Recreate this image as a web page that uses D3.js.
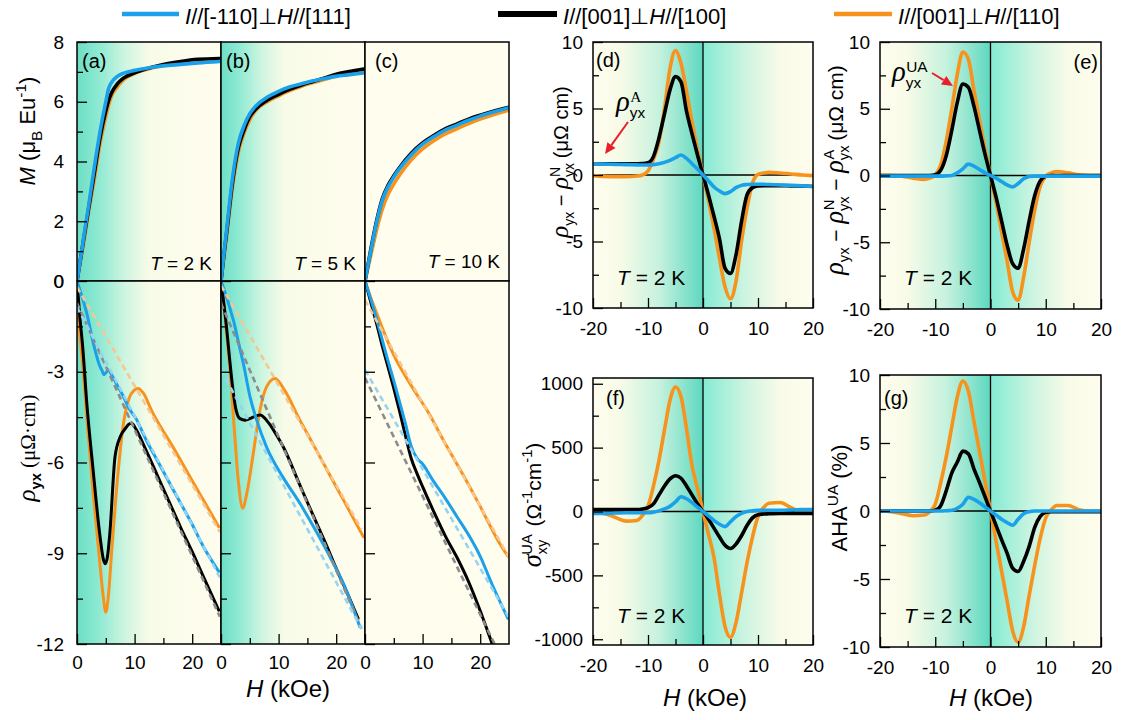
<!DOCTYPE html>
<html lang="en">
<head>
<meta charset="utf-8">
<title>Magnetization and Hall resistivity, three current/field geometries</title>
<script src="https://cdn.jsdelivr.net/npm/d3@7"></script>
<style>
	body { margin: 0; background: #fff; }
	svg { display: block; font-family: "Liberation Sans", Arial, sans-serif; }
</style>
</head>
<body>
<script>
// ---------- data ----------
var legendLabels = [
	[{t: "I", it: 1}, {t: "//[-110]⊥"}, {t: "H", it: 1}, {t: "//[111]"}],
	[{t: "I", it: 1}, {t: "//[001]⊥"}, {t: "H", it: 1}, {t: "//[100]"}],
	[{t: "I", it: 1}, {t: "//[001]⊥"}, {t: "H", it: 1}, {t: "//[110]"}]
];

// tick values
var mTicks = [0, 2, 4, 6, 8], mMinor = [1, 3, 5, 7];
var rTicks = [0, -3, -6, -9, -12], rMinor = [-1.5, -4.5, -7.5, -10.5];
var hTicksL = [0, 10, 20], hMinorL = [5, 15];
var hTicksR = [-20, -10, 0, 10, 20], hMinorR = [-15, -5, 5, 15];
var dTicks = [-10, -5, 0, 5, 10], dMinor = [-7.5, -2.5, 2.5, 7.5];
var fTicks = [-1000, -500, 0, 500, 1000], fMinor = [-750, -250, 250, 750];

// M(H), panels a-c
var hM_a = [0, 0.5, 1, 2, 3, 4, 5, 5.5, 6, 7, 8, 10, 12, 15, 18, 21, 24.8];
var mA_black = [0, 0.6, 1.2, 2.4, 3.6, 4.8, 5.7, 6.05, 6.3, 6.6, 6.78, 6.97, 7.1, 7.25, 7.35, 7.42, 7.45];
var mA_blue = [0, 0.6, 1.25, 2.5, 3.8, 5.0, 6.0, 6.45, 6.65, 6.85, 6.95, 7.05, 7.12, 7.2, 7.25, 7.3, 7.35];
var mA_orange = [0, 0.55, 1.1, 2.3, 3.4, 4.6, 5.5, 5.9, 6.2, 6.5, 6.72, 6.95, 7.08, 7.22, 7.3, 7.36, 7.4];

var hM_b = [0, 0.5, 1, 2, 3, 4, 5, 6, 8, 10, 12, 14, 16, 18, 20, 22, 25];
var mB_black = [0, 0.85, 1.65, 3.3, 4.45, 5.05, 5.5, 5.75, 6.05, 6.25, 6.42, 6.56, 6.68, 6.8, 6.92, 7.0, 7.1];
var mB_blue = [0, 0.9, 1.75, 3.45, 4.6, 5.2, 5.6, 5.85, 6.15, 6.35, 6.5, 6.6, 6.7, 6.78, 6.85, 6.9, 6.97];
var mB_orange = [0, 0.8, 1.55, 3.15, 4.3, 4.95, 5.4, 5.7, 6.0, 6.2, 6.38, 6.52, 6.64, 6.75, 6.86, 6.93, 7.0];

var hM_c = [0, 1, 2, 3, 4, 5, 6, 8, 10, 12, 14, 16, 18, 20, 22, 25];
var mC_black = [0, 1.05, 2.0, 2.75, 3.2, 3.52, 3.8, 4.27, 4.62, 4.88, 5.1, 5.26, 5.42, 5.55, 5.67, 5.82];
var mC_blue = [0, 1.0, 1.95, 2.7, 3.15, 3.48, 3.76, 4.22, 4.58, 4.84, 5.06, 5.22, 5.38, 5.52, 5.64, 5.8];
var mC_orange = [0, 0.85, 1.7, 2.4, 2.9, 3.25, 3.55, 4.05, 4.42, 4.7, 4.93, 5.1, 5.27, 5.42, 5.55, 5.72];

// rho_yx(H), panels a-c
var hRA_black = [0, 0.5, 1, 1.7, 2.8, 4, 4.6, 4.9, 5.3, 5.7, 6.6, 7.5, 8.5, 8.9, 9.5, 10.1, 12, 14, 16, 18, 20, 22, 24.6];
var rA_black = [0, -1.2, -2.2, -4.04, -6.25, -8.45, -9.22, -9.35, -9.1, -8.34, -5.81, -5.15, -4.85, -4.75, -4.7, -4.85, -5.6, -6.45, -7.3, -8.15, -8.95, -9.8, -10.88];
var hRA_orange = [0, 0.5, 1, 1.7, 2.8, 4, 4.6, 5, 5.4, 6, 7, 8, 9, 10, 10.6, 11.5, 13, 16.7, 20, 24.6];
var rA_orange = [-0.8, -1.8, -2.8, -4.5, -7.0, -9.4, -10.5, -10.95, -10.5, -9.0, -6.6, -4.8, -3.9, -3.6, -3.55, -3.7, -4.3, -5.5, -6.6, -8.12];
var hRA_blue = [0, 0.5, 1, 1.7, 2.84, 4.0, 4.3, 4.7, 5.45, 6.0, 7, 8, 9, 10.4, 10.9, 12, 14, 16.7, 20, 22, 24.6];
var rA_blue = [0, -0.3, -0.6, -1.07, -2.06, -2.83, -2.94, -3.1, -2.94, -3.1, -3.45, -3.8, -4.2, -4.6, -4.8, -5.25, -5.95, -6.9, -8.05, -8.8, -9.6];

var hRB_black = [0, 0.4, 1, 1.56, 2.14, 2.6, 3.3, 4.2, 5.0, 5.6, 6.8, 7.9, 8.5, 9.5, 10.8, 13.7, 16, 18, 20, 22, 23.8];
var rB_black = [0, -0.6, -1.6, -2.7, -3.7, -4.25, -4.55, -4.6, -4.55, -4.5, -4.43, -4.6, -4.75, -5.05, -5.48, -6.75, -7.75, -8.6, -9.5, -10.35, -11.15];
var hRB_orange = [0, 0.4, 1, 1.56, 2.4, 3.0, 3.76, 4.5, 5.6, 6.77, 7.93, 9.4, 11, 13.7, 16, 18, 20, 22, 24.7];
var rB_orange = [-0.3, -0.6, -1.8, -2.94, -5.15, -6.6, -7.51, -7.0, -5.7, -4.26, -3.49, -3.22, -3.6, -4.6, -5.4, -6.1, -6.8, -7.5, -8.45];
var hRB_blue = [0, 1, 2, 2.14, 3, 3.87, 5.03, 6.2, 7.93, 10.8, 13.7, 16, 19.5, 21, 22.5, 24.1];
var rB_blue = [0, -0.55, -1.2, -1.29, -2.0, -2.72, -3.82, -4.6, -5.5, -6.5, -7.35, -8.1, -9.33, -9.9, -10.6, -11.43];

var hRC_black = [0, 1, 2, 3, 4, 5, 6, 7, 8, 9, 10, 12, 14, 16, 18, 20, 22, 22.2];
var rC_black = [0, -0.7, -1.4, -2.15, -2.85, -3.55, -4.3, -5.1, -5.85, -6.35, -6.8, -7.65, -8.45, -9.15, -9.95, -10.9, -11.95, -12.05];
var hRC_blue = [0, 1, 2, 3, 4, 5, 6, 7, 8, 9, 10, 12, 14, 16, 18, 20, 22, 24.8];
var rC_blue = [0, -0.6, -1.25, -1.95, -2.65, -3.3, -4.0, -4.7, -5.45, -5.85, -6.05, -6.65, -7.2, -7.8, -8.4, -9.1, -10.0, -11.15];
var hRC_orange = [0, 1, 2, 3, 5, 8, 11, 14, 17, 20, 23, 24.8];
var rC_orange = [0, -0.55, -1.05, -1.55, -2.45, -3.45, -4.35, -5.4, -6.4, -7.45, -8.55, -9.1];

// linear normal-Hall fits (dashed)
var fitH_a = [0, 24.8], fitA_orange = [-0.2, -8.3], fitA_black = [-0.73, -11.1], fitA_blue = [-0.86, -9.8];
var fitH_b = [0, 24.4], fitB_orange = [-0.15, -8.2], fitB_black = [-0.74, -11.5], fitB_blue = [-2.94, -11.5];
var fitH_c = [0, 24.9], fitC_orange = [-0.63, -9.11], fitC_black = [-3.2, -12.94], fitC_blue = [-2.94, -11.1];

// panels d-g, T = 2 K
var hSym = [-20, -18, -16, -14, -12, -11, -10, -9, -8, -7, -6, -5, -4, -3, -2, -1, 0,
	1, 2, 3, 4, 5, 6, 7, 8, 9, 10, 11, 12, 14, 16, 18, 20];
var d_orange = [-0.05, -0.1, -0.12, -0.12, -0.08, 0.0, 0.3, 1.2, 2.5, 5.0, 8.0, 9.35, 8.4, 6.3, 4.0, 1.9, 0,
	-1.9, -4.0, -6.3, -8.4, -9.3, -8.0, -5.0, -2.5, -0.6, 0.05, 0.15, 0.2, 0.15, 0.08, 0.0, -0.05];
var d_black = [0.85, 0.85, 0.85, 0.85, 0.85, 0.86, 0.92, 1.4, 2.8, 4.6, 6.4, 7.4, 7.0, 4.8, 3.1, 1.5, 0,
	-1.5, -3.1, -4.8, -7.0, -7.4, -6.0, -3.5, -1.5, -0.95, -0.82, -0.8, -0.8, -0.8, -0.82, -0.84, -0.86];
var d_blue = [0.85, 0.82, 0.8, 0.78, 0.76, 0.75, 0.75, 0.78, 0.85, 0.95, 1.1, 1.3, 1.5, 1.25, 0.85, 0.45, 0,
	-0.45, -0.9, -1.2, -1.4, -1.25, -0.95, -0.78, -0.72, -0.7, -0.7, -0.7, -0.72, -0.75, -0.78, -0.82, -0.85];

var e_orange = [0, 0, -0.05, -0.2, -0.3, -0.2, 0.05, 0.8, 2.6, 5.0, 7.6, 9.25, 8.7, 6.4, 4.2, 2.0, 0,
	-2.0, -4.2, -6.4, -8.7, -9.35, -7.6, -5.0, -2.6, -0.8, -0.05, 0.2, 0.3, 0.2, 0.05, 0, 0];
var e_black = [0, 0, 0, 0, 0, 0, 0.05, 0.4, 1.5, 3.4, 5.5, 6.85, 6.6, 5.2, 3.4, 1.6, 0,
	-1.6, -3.4, -5.2, -6.6, -6.95, -5.5, -3.4, -1.5, -0.4, -0.05, 0, 0, 0, 0, 0, 0];
var e_blue = [-0.05, -0.05, -0.05, -0.05, -0.05, -0.05, -0.05, -0.05, -0.03, 0.0, 0.2, 0.5, 0.85, 0.7, 0.45, 0.2, 0,
	-0.2, -0.45, -0.7, -0.85, -0.6, -0.25, -0.08, -0.05, -0.05, -0.05, -0.05, -0.05, -0.05, -0.05, -0.05, -0.05];

var f_orange = [-5, -15, -45, -75, -70, -30, 40, 200, 400, 640, 870, 975, 900, 650, 360, 180, 0,
	-180, -360, -650, -900, -985, -870, -640, -400, -200, -40, 30, 65, 70, 30, -5, -5];
var f_black = [15, 15, 15, 15, 15, 20, 30, 60, 130, 200, 255, 280, 260, 200, 130, 60, 0,
	-60, -130, -200, -265, -290, -255, -190, -110, -50, -25, -20, -18, -15, -15, -15, -15];
var f_blue = [-15, -15, -12, -10, -10, -10, -10, -5, 5, 20, 40, 75, 115, 100, 70, 35, 0,
	-35, -70, -100, -118, -80, -40, -15, 0, 5, 10, 10, 10, 10, 12, 15, 15];

var g_orange = [0, -0.05, -0.2, -0.35, -0.3, -0.05, 0.5, 2.1, 4.0, 6.2, 8.4, 9.55, 8.8, 6.6, 4.4, 2.2, 0,
	-2.2, -4.4, -6.6, -8.8, -9.65, -8.5, -6.2, -4.0, -2.0, -0.5, 0.1, 0.4, 0.4, 0.1, 0, 0];
var g_black = [0, 0, 0, 0, 0, 0, 0.05, 0.4, 1.5, 2.8, 3.6, 4.4, 4.2, 3.1, 2.1, 1.05, 0,
	-1.05, -2.1, -3.1, -4.2, -4.45, -3.7, -2.6, -1.2, -0.4, -0.1, -0.05, -0.05, -0.05, -0.05, -0.05, -0.05];
var g_blue = [0, 0, 0, 0, 0, 0, 0, 0, 0.02, 0.05, 0.2, 0.5, 1.0, 0.85, 0.6, 0.3, 0,
	-0.3, -0.6, -0.85, -1.05, -0.6, -0.2, -0.05, 0, 0, 0, 0, 0, 0, 0, 0, 0];

// ---------- styles ----------
var colBlue = "#1ba0ea", colBlack = "#000000", colOrange = "#f7931d";
var fitOrange = "#f5c792", fitBlack = "#8c8c8c", fitBlue = "#96d4f4";
var cream = "#fffdee";
var serif = "'Liberation Serif', 'Times New Roman', serif";

var svg = d3.select("body").append("svg")
	.attr("width", 1121)
	.attr("height", 720);
var defs = svg.append("defs");

function addGrad(id, stops) {
	var lg = defs.append("linearGradient").attr("id", id)
		.attr("x1", 0).attr("x2", 1).attr("y1", 0).attr("y2", 0);
	stops.forEach(function(s) {
		lg.append("stop").attr("offset", s[0]).attr("stop-color", s[1]);
	});
}
addGrad("gA", [[0, "#6cdfc5"], [0.15, "#8ee9d2"], [0.33, "#cdf5e0"], [0.5, "#f8fbe8"], [1, cream]]);
addGrad("gB", [[0, "#6cdfc5"], [0.12, "#8ee9d2"], [0.28, "#cdf5e0"], [0.44, "#f8fbe8"], [1, cream]]);
addGrad("gS", [[0, cream], [0.12, "#f8fbe8"], [0.3, "#c6f2de"], [0.5, "#5ed8c0"],
	[0.5, "#84ebd3"], [0.68, "#c9f4e0"], [0.85, "#f8fbe8"], [1, cream]]);

// rich text with italics, sub- and superscripts
function rich(sel, parts, fs) {
	var shift = 0;
	parts.forEach(function(p) {
		var size = fs * (p.fs || 1), target = 0;
		if (p.sub) { target = fs * 0.3; size = fs * 0.7; }
		if (p.sup) { target = -fs * 0.42; size = fs * 0.7; }
		var ts = sel.append("tspan").text(p.t)
			.attr("font-size", size)
			.attr("dy", target - shift);
		shift = target;
		if (p.it) ts.attr("font-style", "italic");
		if (p.serif) ts.attr("font-family", serif);
		if (p.bold) ts.attr("font-weight", "bold");
		if (p.dx) ts.attr("dx", p.dx);
	});
	return sel;
}

function label(x, y, parts, fs, anchor, rot) {
	var t = svg.append("text")
		.attr("text-anchor", anchor || "start")
		.attr("fill", "#000");
	if (rot) t.attr("transform", "translate(" + x + "," + y + ") rotate(-90)");
	else t.attr("x", x).attr("y", y);
	return rich(t, parts, fs);
}

function fmt(d) { return String(d); }
function blank() { return ""; }

// one framed panel with clipped plot area
var clipN = 0;
function frame(x, y, bg) {
	var x0 = x.range()[0], x1 = x.range()[1], y0 = y.range()[1], y1 = y.range()[0];
	var id = "clip" + (clipN++);
	defs.append("clipPath").attr("id", id).append("rect")
		.attr("x", x0).attr("y", y0).attr("width", x1 - x0).attr("height", y1 - y0);
	var g = svg.append("g");
	g.append("rect")
		.attr("x", x0).attr("y", y0).attr("width", x1 - x0).attr("height", y1 - y0)
		.attr("fill", bg);
	var plot = g.append("g").attr("clip-path", "url(#" + id + ")");
	return { g: g, plot: plot, x: x, y: y, box: [x0, y0, x1, y1] };
}

function border(p) {
	var b = p.box;
	p.g.append("rect")
		.attr("x", b[0]).attr("y", b[1]).attr("width", b[2] - b[0]).attr("height", b[3] - b[1])
		.attr("fill", "none").attr("stroke", "#000").attr("stroke-width", 1.5);
}

function styleAxis(ax) {
	ax.attr("font-family", null).attr("font-size", null);
	ax.select(".domain").remove();
	ax.selectAll("line").attr("stroke", "#000").attr("stroke-width", 1.3);
	ax.selectAll("text").attr("font-size", 19).attr("fill", "#000");
}

function yAxis(p, major, minor, withLabels, pad) {
	var x0 = p.box[0];
	styleAxis(p.g.append("g").attr("transform", "translate(" + x0 + ",0)")
		.call(d3.axisLeft(p.y).tickValues(minor).tickSize(-6).tickFormat(blank)));
	styleAxis(p.g.append("g").attr("transform", "translate(" + x0 + ",0)")
		.call(d3.axisLeft(p.y).tickValues(major).tickSize(-10).tickPadding(pad)
			.tickFormat(withLabels ? fmt : blank)));
}

function xAxis(p, major, minor, pad) {
	var y1 = p.box[3];
	styleAxis(p.g.append("g").attr("transform", "translate(0," + y1 + ")")
		.call(d3.axisBottom(p.x).tickValues(minor).tickSize(-6).tickFormat(blank)));
	styleAxis(p.g.append("g").attr("transform", "translate(0," + y1 + ")")
		.call(d3.axisBottom(p.x).tickValues(major).tickSize(-10).tickPadding(pad).tickFormat(fmt)));
}

function curve(p, hs, vs, color, width, dash) {
	var line = d3.line()
		.x(function(d) { return p.x(d[0]); })
		.y(function(d) { return p.y(d[1]); })
		.curve(d3.curveMonotoneX);
	var path = p.plot.append("path")
		.datum(d3.zip(hs, vs))
		.attr("d", line)
		.attr("fill", "none")
		.attr("stroke", color)
		.attr("stroke-width", width)
		.attr("stroke-linejoin", "round")
		.attr("stroke-linecap", "round");
	if (dash) path.attr("stroke-dasharray", dash).attr("stroke-linecap", "butt");
}

function zeroLines(p) {
	var b = p.box;
	p.plot.append("line").attr("x1", b[0]).attr("x2", b[2])
		.attr("y1", p.y(0)).attr("y2", p.y(0)).attr("stroke", "#000").attr("stroke-width", 1.3);
	p.plot.append("line").attr("x1", p.x(0)).attr("x2", p.x(0))
		.attr("y1", b[1]).attr("y2", b[3]).attr("stroke", "#000").attr("stroke-width", 1.3);
}

// ---------- legend ----------
var legendCols = [colBlue, colBlack, colOrange];
var legendLine = [[122, 179, 4.5], [498, 557, 6], [834, 892, 4.5]];
var legendText = [185, 563, 898];
legendLabels.forEach(function(parts, i) {
	svg.append("line")
		.attr("x1", legendLine[i][0]).attr("x2", legendLine[i][1])
		.attr("y1", 14).attr("y2", 14)
		.attr("stroke", legendCols[i]).attr("stroke-width", legendLine[i][2]);
	label(legendText[i], 23.5, parts, 22);
});

// ---------- panels a-c ----------
var yM = d3.scaleLinear().domain([0, 8]).range([281, 42]);
var yR = d3.scaleLinear().domain([-12, 0]).range([644, 281]);
var left = [
	{ x: d3.scaleLinear().domain([0, 25]).range([77, 221]), bg: "url(#gA)", tag: "(a)", T: " = 2 K",
		hM: hM_a, m: [mA_orange, mA_black, mA_blue],
		hR: [hRA_orange, hRA_black, hRA_blue], r: [rA_orange, rA_black, rA_blue],
		fh: fitH_a, fit: [fitA_orange, fitA_black, fitA_blue] },
	{ x: d3.scaleLinear().domain([0, 25]).range([221, 365]), bg: "url(#gB)", tag: "(b)", T: " = 5 K",
		hM: hM_b, m: [mB_orange, mB_black, mB_blue],
		hR: [hRB_orange, hRB_black, hRB_blue], r: [rB_orange, rB_black, rB_blue],
		fh: fitH_b, fit: [fitB_orange, fitB_black, fitB_blue] },
	{ x: d3.scaleLinear().domain([0, 25]).range([365, 509]), bg: cream, tag: "(c)", T: " = 10 K",
		hM: hM_c, m: [mC_orange, mC_black, mC_blue],
		hR: [hRC_orange, hRC_black, hRC_blue], r: [rC_orange, rC_black, rC_blue],
		fh: fitH_c, fit: [fitC_orange, fitC_black, fitC_blue] }
];
var solidCols = [colOrange, colBlack, colBlue];
var fitCols = [fitOrange, fitBlack, fitBlue];

left.forEach(function(L, i) {
	// magnetization
	var pm = frame(L.x, yM, L.bg);
	L.m.forEach(function(vs, k) { curve(pm, L.hM, vs, solidCols[k], 3.6); });
	if (i === 0) yAxis(pm, mTicks, mMinor, true, 13);
	border(pm);

	// Hall resistivity
	var pr = frame(L.x, yR, L.bg);
	L.r.forEach(function(vs, k) { curve(pr, L.hR[k], vs, solidCols[k], 3); });
	L.fit.forEach(function(vs, k) { curve(pr, L.fh, vs, fitCols[k], 2.6, "6,4"); });
	yAxis(pr, rTicks, rMinor, i === 0, 13);
	xAxis(pr, hTicksL, hMinorL, 12);
	border(pr);

	var xr = L.x.range();
	label(xr[0] + (i === 2 ? 10 : 5), 68, [{t: L.tag}], 20);
	label(xr[1] - 9, i === 2 ? 268 : 270, [{t: "T", it: 1}, {t: L.T}], 19, "end");
});

// ---------- panels d-g ----------
var right = [
	{ x: [593, 813], y: [308, 42], dom: [-10, 10], ticks: dTicks, minor: dMinor,
		v: [d_orange, d_black, d_blue], tag: "(d)", tagX: 596, tagA: "start", tagY: 67, tY: 285 },
	{ x: [880, 1101], y: [309, 42], dom: [-10, 10], ticks: dTicks, minor: dMinor,
		v: [e_orange, e_black, e_blue], tag: "(e)", tagX: 1098, tagA: "end", tagY: 69, tY: 285 },
	{ x: [593, 813], y: [645, 378], dom: [-1045, 1045], ticks: fTicks, minor: fMinor,
		v: [f_orange, f_black, f_blue], tag: "(f)", tagX: 606, tagA: "start", tagY: 405, tY: 623 },
	{ x: [880, 1101], y: [647, 375], dom: [-10, 10], ticks: dTicks, minor: dMinor,
		v: [g_orange, g_black, g_blue], tag: "(g)", tagX: 884, tagA: "start", tagY: 405, tY: 623 }
];

right.forEach(function(R) {
	var x = d3.scaleLinear().domain([-20, 20]).range(R.x);
	var y = d3.scaleLinear().domain(R.dom).range(R.y);
	var p = frame(x, y, "url(#gS)");
	zeroLines(p);
	R.v.forEach(function(vs, k) { curve(p, hSym, vs, solidCols[k], 3.6); });
	yAxis(p, R.ticks, R.minor, true, 10);
	xAxis(p, hTicksR, hMinorR, 14);
	border(p);
	label(R.tagX, R.tagY, [{t: R.tag}], 20, R.tagA);
	label(R.x[0] + 24, R.tY, [{t: "T", it: 1}, {t: " = 2 K"}], 21);
});

// ---------- axis titles ----------
var hTitle = [{t: "H", it: 1}, {t: " (kOe)"}];
label(288, 697, hTitle, 24, "middle");
label(705, 706, hTitle, 24, "middle");
label(991, 706, hTitle, 24, "middle");

label(35, 131, [{t: "M", it: 1}, {t: " (μ"}, {t: "B", sub: 1}, {t: " Eu"}, {t: "-1", sup: 1}, {t: ")"}], 22, "middle", true);
label(35, 448, [{t: "ρ", it: 1, serif: 1, fs: 1.2}, {t: "yx", sub: 1, bold: 1}, {t: " (μΩ·cm)", serif: 1}], 21, "middle", true);

var rhoYX = [{t: "ρ", it: 1, serif: 1, fs: 1.25}, {t: "yx", sub: 1}];
function rhoSup(s) {
	return [{t: "ρ", it: 1, serif: 1, fs: 1.25}, {t: "yx", sub: 1}, {t: s, sup: 1, dx: -14}];
}
label(568, 162, rhoYX.concat([{t: " − "}], rhoSup("N"), [{t: " (μΩ cm)", dx: 3}]), 20, "middle", true);
label(843, 170, rhoYX.concat([{t: " − "}], rhoSup("N"), [{t: " − ", dx: 3}], rhoSup("A"), [{t: " (μΩ cm)", dx: 3}]), 21, "middle", true);
label(541, 505, [{t: "σ", it: 1, serif: 1, fs: 1.25}, {t: "xy", sub: 1}, {t: "UA", sup: 1, dx: -15},
	{t: " (Ω", dx: 2}, {t: "-1", sup: 1}, {t: "cm"}, {t: "-1", sup: 1}, {t: ")"}], 21, "middle", true);
label(847, 498, [{t: "AHA"}, {t: "UA", sup: 1}, {t: " (%)"}], 22, "middle", true);

// ---------- annotations ----------
function arrow(x1, y1, x2, y2) {
	var a = Math.atan2(y2 - y1, x2 - x1), L = 11, w = 5;
	var bx = x2 - L * Math.cos(a), by = y2 - L * Math.sin(a);
	svg.append("line").attr("x1", x1).attr("y1", y1).attr("x2", bx).attr("y2", by)
		.attr("stroke", "#e8202a").attr("stroke-width", 2);
	svg.append("path")
		.attr("d", "M" + x2 + "," + y2 +
			"L" + (bx + w * Math.sin(a)) + "," + (by - w * Math.cos(a)) +
			"L" + (bx - w * Math.sin(a)) + "," + (by + w * Math.cos(a)) + "Z")
		.attr("fill", "#e8202a");
}
label(616, 111, [{t: "ρ", it: 1, serif: 1, fs: 1.3}, {t: "yx", sub: 1}, {t: "A", sup: 1, dx: -15, serif: 1}], 22);
arrow(628, 122, 605, 154);
label(892, 81, [{t: "ρ", it: 1, serif: 1, fs: 1.3}, {t: "yx", sub: 1}, {t: "UA", sup: 1, dx: -15}], 22);
arrow(932, 73, 953, 86);
</script>
</body>
</html>
